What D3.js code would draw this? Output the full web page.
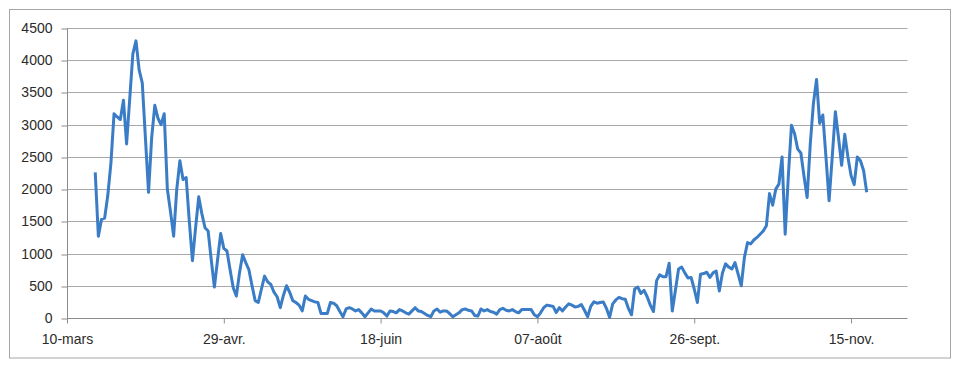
<!DOCTYPE html>
<html>
<head>
<meta charset="utf-8">
<script src="https://cdn.jsdelivr.net/npm/d3@7"></script>
<style>
  body { margin: 0; background: #fff; }
</style>
</head>
<body>
<script>
// first day of the series and daily values
const startDate = '2020-03-19';
const values = [
  2260, 1270, 1530, 1550, 1900, 2400, 3170, 3120, 3080, 3380,
  2700, 3400, 4100, 4300, 3850, 3650, 2800, 1950, 2800, 3300,
  3100, 3000, 3170, 2000, 1650, 1270, 2000, 2440, 2150, 2180,
  1500, 890, 1400, 1880, 1620, 1400, 1350, 900, 480, 900,
  1310, 1080, 1040, 750, 470, 340, 700, 980, 860, 750,
  500, 270, 240, 450, 650, 560, 520, 400, 330, 160,
  350, 500, 400, 270, 240, 200, 110, 340, 290, 270,
  250, 240, 70, 70, 70, 240, 230, 190, 100, 20,
  140, 160, 140, 110, 130, 80, 20, 80, 140, 110,
  110, 110, 80, 30, 110, 100, 80, 130, 110, 80,
  60, 110, 160, 110, 100, 70, 40, 20, 110, 140,
  90, 110, 110, 70, 20, 50, 80, 130, 140, 120,
  110, 40, 30, 140, 110, 130, 100, 90, 60, 130,
  150, 120, 110, 130, 100, 80, 130, 130, 130, 130,
  50, 20, 80, 160, 200, 190, 180, 85, 160, 110,
  170, 220, 200, 170, 180, 210, 120, 20, 180, 250,
  230, 240, 250, 150, 10, 220, 280, 320, 300, 290,
  150, 50, 450, 480, 380, 430, 330, 200, 100, 580,
  670, 640, 640, 850, 110, 430, 760, 790, 700, 620,
  630, 450, 240, 680, 690, 710, 630, 700, 730, 420,
  700, 840, 790, 760, 860, 680, 500, 940, 1170, 1150,
  1210, 1250, 1300, 1350, 1430, 1930, 1750, 2000, 2080, 2500,
  1300, 2200, 2990, 2860, 2620, 2560, 2200, 1870, 2700, 3330,
  3700, 3020, 3150, 2500, 1820, 2500, 3200, 2800, 2370, 2850,
  2500, 2210, 2070, 2500, 2440, 2290, 1950
];
const axisStart = '2020-03-10';
const axisEnd = '2020-12-03';
const tickDates = ['2020-03-10', '2020-04-29', '2020-06-18', '2020-08-07', '2020-09-26', '2020-11-15'];
const tickLabels = ['10-mars', '29-avr.', '18-juin', '07-août', '26-sept.', '15-nov.'];
const yTicks = [0, 500, 1000, 1500, 2000, 2500, 3000, 3500, 4000, 4500];

const parse = d3.timeParse('%Y-%m-%d');
const t0 = parse(startDate);
const data = values.map((v, i) => ({ date: d3.timeDay.offset(t0, i), value: v }));

const W = 958, H = 368;
const plotLeft = 67, plotRight = 907.5, plotTop = 28, plotBottom = 318;
const font = '"Liberation Sans", Arial, sans-serif';

const svg = d3.select('body').append('svg')
  .attr('width', W)
  .attr('height', H);

// chart frame
svg.append('rect')
  .attr('x', 9.5).attr('y', 9.5)
  .attr('width', 941).attr('height', 348.5)
  .attr('fill', 'none')
  .attr('stroke', '#a6a6a6');

const x = d3.scaleTime()
  .domain([parse(axisStart), parse(axisEnd)])
  .range([plotLeft, plotRight]);

const y = d3.scaleLinear()
  .domain([0, 4500])
  .range([plotBottom, plotTop]);

// horizontal gridlines
svg.append('g')
  .selectAll('line')
  .data(yTicks.slice(1))
  .join('line')
  .attr('x1', plotLeft).attr('x2', plotRight)
  .attr('y1', d => Math.round(y(d)) + 0.5)
  .attr('y2', d => Math.round(y(d)) + 0.5)
  .attr('stroke', '#a8a8a8');

// y axis
const yAxis = d3.axisLeft(y)
  .tickValues(yTicks)
  .tickSize(6)
  .tickPadding(9)
  .tickFormat(d3.format('d'));
const gy = svg.append('g')
  .attr('transform', `translate(${plotLeft + 0.5},0)`)
  .call(yAxis);
gy.select('.domain').attr('stroke', '#8c8c8c').attr('d', `M0,${y(4500)}V${plotBottom}`);
gy.selectAll('.tick line').attr('stroke', '#8c8c8c')
  .attr('transform', d => `translate(0,${Math.round(y(d)) + 0.5 - y(d)})`);
gy.selectAll('.tick text').attr('fill', '#2b2b2b')
  .style('font-size', '14px').style('font-family', font);

// x axis
const xAxis = d3.axisBottom(x)
  .tickValues(tickDates.map(parse))
  .tickSize(5)
  .tickPadding(11)
  .tickFormat((d, i) => tickLabels[i]);
const gx = svg.append('g')
  .attr('transform', `translate(0,${plotBottom + 0.5})`)
  .call(xAxis);
gx.select('.domain').attr('stroke', '#8c8c8c').attr('d', `M${plotLeft},0H${plotRight}`);
gx.selectAll('.tick line').attr('stroke', '#8c8c8c');
gx.selectAll('.tick text').attr('fill', '#2b2b2b')
  .style('font-size', '14px').style('font-family', font);

// series line
const line = d3.line()
  .x(d => x(d.date))
  .y(d => y(d.value));

svg.append('path')
  .datum(data)
  .attr('fill', 'none')
  .attr('stroke', '#3a7dc6')
  .attr('stroke-width', 3)
  .attr('stroke-linejoin', 'round')
  .attr('d', line);
</script>
</body>
</html>
